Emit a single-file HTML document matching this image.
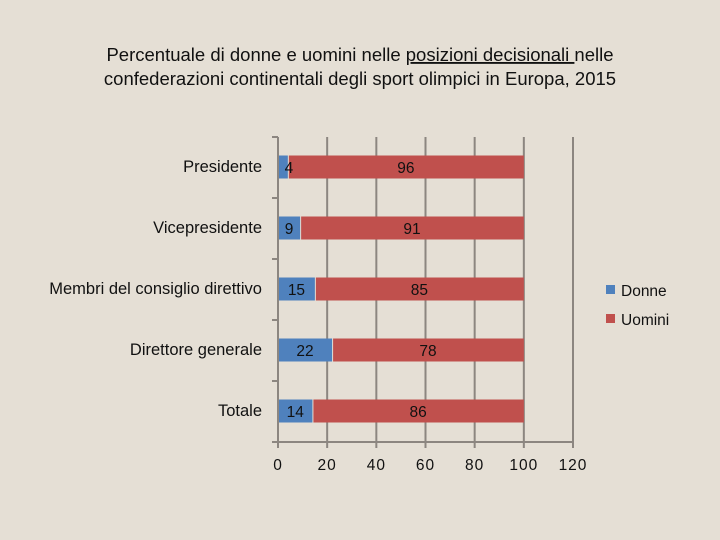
<!DOCTYPE html>
<html><head><meta charset="utf-8"><style>
body{margin:0;width:720px;height:540px;background:#e5dfd5;overflow:hidden;font-family:"Liberation Sans",sans-serif}
svg{position:absolute;left:0;top:0}
</style></head><body>
<svg id="c" width="720" height="540">
<rect width="720" height="540" fill="#e5dfd5"/>
<text x="360" y="61" text-anchor="middle" font-size="18.5" fill="#111">Percentuale di donne e uomini nelle <tspan text-decoration="underline">posizioni decisionali </tspan>nelle</text>
<text x="360" y="85" text-anchor="middle" font-size="18.5" fill="#111">confederazioni continentali degli sport olimpici in Europa, 2015</text>
<g id="grid"></g><g id="bars"></g><g id="axes"></g>
<rect x="606" y="285" width="9" height="9" fill="#4f81bd"/>
<text x="621" y="296" font-size="15.5" fill="#111">Donne</text>
<rect x="606" y="314" width="9" height="9" fill="#c0504d"/>
<text x="621" y="325" font-size="15.5" fill="#111">Uomini</text>
</svg>
<script>
const categories=["Presidente","Vicepresidente","Membri del consiglio direttivo","Direttore generale","Totale"];
const donne=[4,9,15,22,14];
const uomini=[96,91,85,78,86];
const ticks=[0,20,40,60,80,100,120];
const NS="http://www.w3.org/2000/svg";
const x0=278,xUnit=(573-278)/120,yTop=137,band=61,bh=23;
const xs=v=>x0+v*xUnit;
function mk(t,a,p){const e=document.createElementNS(NS,t);for(const k in a)e.setAttribute(k,a[k]);p.appendChild(e);return e;}
const G=document.getElementById('grid'),B=document.getElementById('bars'),A=document.getElementById('axes');
const yBottom=yTop+band*categories.length;
ticks.forEach(t=>{
 if(t>0){const l=mk('line',{x1:xs(t),x2:xs(t),y1:yTop,y2:yBottom+6,stroke:'#8c8680','stroke-width':2},G);
 
 }
 const tx=mk('text',{x:xs(t),y:yBottom+28,'text-anchor':'middle','font-size':15.5,'letter-spacing':1,fill:'#111'},A);tx.textContent=t;
 
 
});
const ax=mk('line',{x1:x0,x2:x0,y1:yTop,y2:yBottom+6,stroke:'#8c8680','stroke-width':2},A);


const bx=mk('line',{x1:x0,x2:xs(120),y1:yBottom,y2:yBottom,stroke:'#8c8680','stroke-width':2},A);


for(let i=0;i<=categories.length;i++){const l=mk('line',{x1:x0-6,x2:x0,y1:yTop+i*band,y2:yTop+i*band,stroke:'#8c8680','stroke-width':2},A);
 
 }
categories.forEach((c,i)=>{
 const cy=yTop+band*i+band/2-0.5,y=cy-bh/2;
 const lb=mk('text',{x:262,y:cy+5,'text-anchor':'end','font-size':16.5,fill:'#111'},A);lb.textContent=c;
 
 
 const r1=mk('rect',{x:xs(0),y:y,width:xs(donne[i])-xs(0),height:bh,fill:'#4f81bd'},B);
 
 
 const r2=mk('rect',{x:xs(donne[i])+1,y:y,width:xs(donne[i]+uomini[i])-xs(donne[i])-1,height:bh,fill:'#c0504d'},B);
 
 
 const t1=mk('text',{x:xs(donne[i]/2)+(donne[i]<6?6:0),y:cy+6,'text-anchor':'middle','font-size':15.5,fill:'#111'},B);t1.textContent=donne[i];
 
 
 const t2=mk('text',{x:xs(donne[i]+uomini[i]/2),y:cy+6,'text-anchor':'middle','font-size':15.5,fill:'#111'},B);t2.textContent=uomini[i];
 
 
});
</script>
</body></html>
